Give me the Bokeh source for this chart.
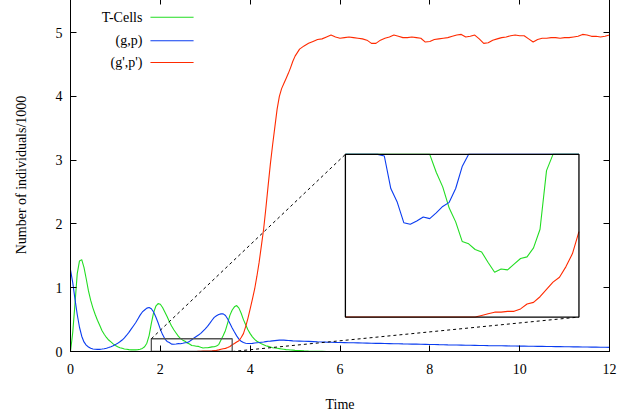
import numpy as np
from bokeh.plotting import figure
from bokeh.models import Range1d, LinearAxis, FixedTicker
from bokeh.core.properties import value
from bokeh.embed import file_html
from bokeh.resources import INLINE

# time grid: 0..5 every 0.05, then 5.1..12 every 0.1
t = np.round(np.concatenate([np.arange(0, 5.0001, 0.05), np.arange(5.1, 12.0001, 0.1)]), 2)

t_cells = [
    0.0, 0.3, 0.75, 1.22, 1.42, 1.44, 1.32, 1.14, 0.95, 0.8,
    0.68, 0.58, 0.49, 0.41, 0.33, 0.27, 0.22, 0.18, 0.15, 0.12,
    0.095, 0.075, 0.06, 0.05, 0.04, 0.035, 0.03, 0.026, 0.025, 0.026,
    0.03, 0.036, 0.048, 0.075, 0.13, 0.25, 0.44, 0.61, 0.71, 0.75,
    0.74, 0.69, 0.62, 0.55, 0.47, 0.4, 0.34, 0.29, 0.24, 0.202,
    0.178, 0.16, 0.134, 0.117, 0.093, 0.09, 0.083, 0.08, 0.067, 0.055,
    0.059, 0.058, 0.065, 0.072, 0.074, 0.085, 0.108, 0.18, 0.25, 0.33,
    0.45, 0.57, 0.65, 0.7, 0.72, 0.68, 0.6, 0.5, 0.42, 0.34,
    0.28, 0.23, 0.19, 0.16, 0.14, 0.12, 0.105, 0.09, 0.08, 0.07,
    0.06, 0.055, 0.05, 0.045, 0.04, 0.035, 0.03, 0.027, 0.024, 0.021,
    0.018,
    0.014, 0.01, 0.007, 0.005, 0.003, 0.002, 0.001, 0.0, 0.0, 0.0,
    0.0, 0.0, 0.0, 0.0, 0.0, 0.0, 0.0, 0.0, 0.0, 0.0,
    0.0, 0.0, 0.0, 0.0, 0.0, 0.0, 0.0, 0.0, 0.0, 0.0,
    0.0, 0.0, 0.0, 0.0, 0.0, 0.0, 0.0, 0.0, 0.0, 0.0,
    0.0, 0.0, 0.0, 0.0, 0.0, 0.0, 0.0, 0.0, 0.0, 0.0,
    0.0, 0.0, 0.0, 0.0, 0.0, 0.0, 0.0, 0.0, 0.0, 0.0,
    0.0, 0.0, 0.0, 0.0, 0.0, 0.0, 0.0, 0.0, 0.0, 0.0,
]

gp = [
    1.28, 1.08, 0.82, 0.58, 0.38, 0.24, 0.15, 0.1, 0.07, 0.05,
    0.04, 0.035, 0.033, 0.034, 0.038, 0.044, 0.052, 0.062, 0.075, 0.09,
    0.108, 0.128, 0.152, 0.18, 0.215, 0.255, 0.3, 0.35, 0.4, 0.45,
    0.51, 0.57, 0.62, 0.65, 0.68, 0.69, 0.67, 0.62, 0.54, 0.45,
    0.35, 0.265, 0.198, 0.158, 0.141, 0.116, 0.114, 0.118, 0.123, 0.121,
    0.128, 0.136, 0.141, 0.158, 0.185, 0.212, 0.235, 0.258, 0.285, 0.32,
    0.355, 0.395, 0.44, 0.49, 0.535, 0.56, 0.58, 0.59, 0.59, 0.565,
    0.51, 0.44, 0.37, 0.305, 0.245, 0.195, 0.16, 0.14, 0.13, 0.126,
    0.125, 0.128, 0.132, 0.136, 0.14, 0.146, 0.15, 0.155, 0.16, 0.163,
    0.167, 0.171, 0.175, 0.178, 0.18, 0.178, 0.175, 0.172, 0.17, 0.167,
    0.165,
    0.163, 0.16, 0.158, 0.155, 0.152, 0.15, 0.147, 0.145, 0.142, 0.14,
    0.139, 0.138, 0.136, 0.135, 0.133, 0.132, 0.13, 0.128, 0.127, 0.125,
    0.124, 0.122, 0.121, 0.119, 0.118, 0.116, 0.115, 0.113, 0.112, 0.11,
    0.109, 0.107, 0.106, 0.104, 0.103, 0.101, 0.1, 0.099, 0.097, 0.096,
    0.095, 0.094, 0.092, 0.091, 0.09, 0.089, 0.088, 0.087, 0.086, 0.085,
    0.084, 0.083, 0.082, 0.081, 0.08, 0.079, 0.078, 0.077, 0.076, 0.075,
    0.074, 0.073, 0.072, 0.071, 0.07, 0.069, 0.068, 0.067, 0.066, 0.065,
]

gp_prime = [
    0.0, 0.0, 0.0, 0.0, 0.0, 0.0, 0.0, 0.0, 0.0, 0.0,
    0.0, 0.0, 0.0, 0.0, 0.0, 0.0, 0.0, 0.0, 0.0, 0.0,
    0.0, 0.0, 0.0, 0.0, 0.0, 0.0, 0.0, 0.0, 0.0, 0.0,
    0.0, 0.0, 0.0, 0.0, 0.0, 0.0, 0.0, 0.0, 0.0, 0.0,
    0.0, 0.0, 0.0, 0.0, 0.0, 0.0, 0.0, 0.0, 0.0, 0.0,
    0.0, 0.0, 0.0, 0.0, 0.0, 0.0, 0.0, 0.002, 0.004, 0.006,
    0.006, 0.007, 0.007, 0.01, 0.016, 0.018, 0.025, 0.034, 0.043, 0.049,
    0.062, 0.078, 0.105, 0.125, 0.15, 0.17, 0.22, 0.28, 0.39, 0.52,
    0.67, 0.82, 0.98, 1.18, 1.4, 1.66, 1.92, 2.25, 2.6, 2.94,
    3.24, 3.52, 3.8, 4.0, 4.12, 4.2, 4.28, 4.36, 4.45, 4.55,
    4.63,
    4.74, 4.79, 4.83, 4.86, 4.89, 4.9, 4.93, 4.96, 4.93, 4.91,
    4.92, 4.93, 4.92, 4.91, 4.9, 4.88, 4.83, 4.83, 4.88, 4.91,
    4.93, 4.96, 4.94, 4.92, 4.92, 4.93, 4.92, 4.91, 4.85, 4.86,
    4.89, 4.9, 4.91, 4.92, 4.94, 4.96, 4.97, 4.93, 4.94, 4.96,
    4.9, 4.83, 4.84, 4.88, 4.9, 4.92, 4.93, 4.95, 4.96, 4.95,
    4.95, 4.9, 4.85, 4.89, 4.91, 4.91, 4.92, 4.92, 4.91, 4.92,
    4.92, 4.93, 4.94, 4.97, 4.96, 4.94, 4.94, 4.93, 4.94, 4.96,
]

series_names = ["T-Cells", "(g,p)", "(g',p')"]
series_values = [t_cells, gp, gp_prime]
series_colors = ["#22dd22", "#0a3cf0", "#ff2a00"]

x_ticks = [0, 2, 4, 6, 8, 10, 12]
y_ticks = [0, 1, 2, 3, 4, 5]

# zoom window (data) and where the inset sits (data of the main plot)
zoom_x = (1.8, 3.6)
zoom_y = (0.0, 0.2)
inset_x = (6.12, 11.32)
inset_y = (0.54, 3.09)

FONT = "Liberation Serif"
LW = 1.1

p = figure(frame_width=539, frame_height=353,
           x_range=Range1d(0, 12), y_range=Range1d(0, 353 / 63.8),
           output_backend="svg", toolbar_location=None,
           min_border_left=70, min_border_right=10, min_border_top=0,
           min_border_bottom=58, margin=(-2, 0, 0, 0))
p.grid.visible = False
p.outline_line_color = "black"
p.outline_line_width = 1

p.xaxis.ticker = FixedTicker(ticks=x_ticks)
p.yaxis.ticker = FixedTicker(ticks=y_ticks)
p.xaxis.axis_label = "Time"
p.yaxis.axis_label = "Number of individuals/1000"
for ax in (p.xaxis[0], p.yaxis[0]):
    ax.major_tick_in = 6
    ax.major_tick_out = 0
    ax.minor_tick_in = 0
    ax.minor_tick_out = 0
    ax.axis_line_color = "black"
    ax.major_tick_line_color = "black"
    ax.major_label_text_font = FONT
    ax.major_label_text_font_size = "14px"
    ax.major_label_text_color = "black"
    ax.axis_label_text_font = FONT
    ax.axis_label_text_font_size = "14px"
    ax.axis_label_text_font_style = "normal"
    ax.axis_label_text_color = "black"
p.xaxis.major_label_standoff = 12
p.xaxis.axis_label_standoff = 20
p.yaxis.major_label_standoff = 8
p.yaxis.axis_label_standoff = 24

# mirrored ticks on top and right, without labels
for side, tk in (("above", x_ticks), ("right", y_ticks)):
    ax = LinearAxis(ticker=FixedTicker(ticks=tk), major_tick_in=6, major_tick_out=0,
                    minor_tick_in=0, minor_tick_out=0,
                    major_label_overrides={k: "" for k in tk},
                    major_label_standoff=0, axis_line_color="black",
                    major_tick_line_color="black")
    p.add_layout(ax, side)

# main curves
for vals, col in zip(series_values, series_colors):
    p.line(t, vals, line_color=col, line_width=LW)

# zoom rectangle and connector lines
p.quad(left=[zoom_x[0]], right=[zoom_x[1]], bottom=[zoom_y[0]], top=[zoom_y[1]],
       fill_color=None, line_color="#555555", line_width=1.3)
p.segment(x0=[zoom_x[0], zoom_x[1]], y0=[zoom_y[1], zoom_y[0]],
          x1=[inset_x[0], inset_x[1]], y1=[inset_y[1], inset_y[0]],
          line_color="black", line_width=1, line_dash="3 3")

# inset through a sub-coordinate mapping
sub = p.subplot(x_source=Range1d(*zoom_x), y_source=Range1d(*zoom_y),
                x_target=Range1d(*inset_x), y_target=Range1d(*inset_y))
sub.quad(left=[zoom_x[0]], right=[zoom_x[1]], bottom=[zoom_y[0]], top=[zoom_y[1]],
         fill_color="white", line_color=None)
mask = (t >= zoom_x[0] - 1e-9) & (t <= zoom_x[1] + 1e-9)
for vals, col in zip(series_values, series_colors):
    v = np.clip(np.asarray(vals)[mask], zoom_y[0], zoom_y[1])
    sub.line(t[mask], v, line_color=col, line_width=LW)
sub.quad(left=[zoom_x[0]], right=[zoom_x[1]], bottom=[zoom_y[0]], top=[zoom_y[1]],
         fill_color=None, line_color="black", line_width=1.3)

# gnuplot-style key (label left, sample right)
key_y = [5.24, 4.87, 4.53]
p.text(x=[1.6] * 3, y=key_y, text=series_names, text_align="right",
       text_baseline="middle", text_font=value(FONT), text_font_size="14px",
       text_color="black")
p.segment(x0=[1.78] * 3, x1=[2.74] * 3, y0=key_y, y1=key_y,
          line_color=series_colors, line_width=LW)

open("out.html", "w").write(file_html(p, INLINE))
